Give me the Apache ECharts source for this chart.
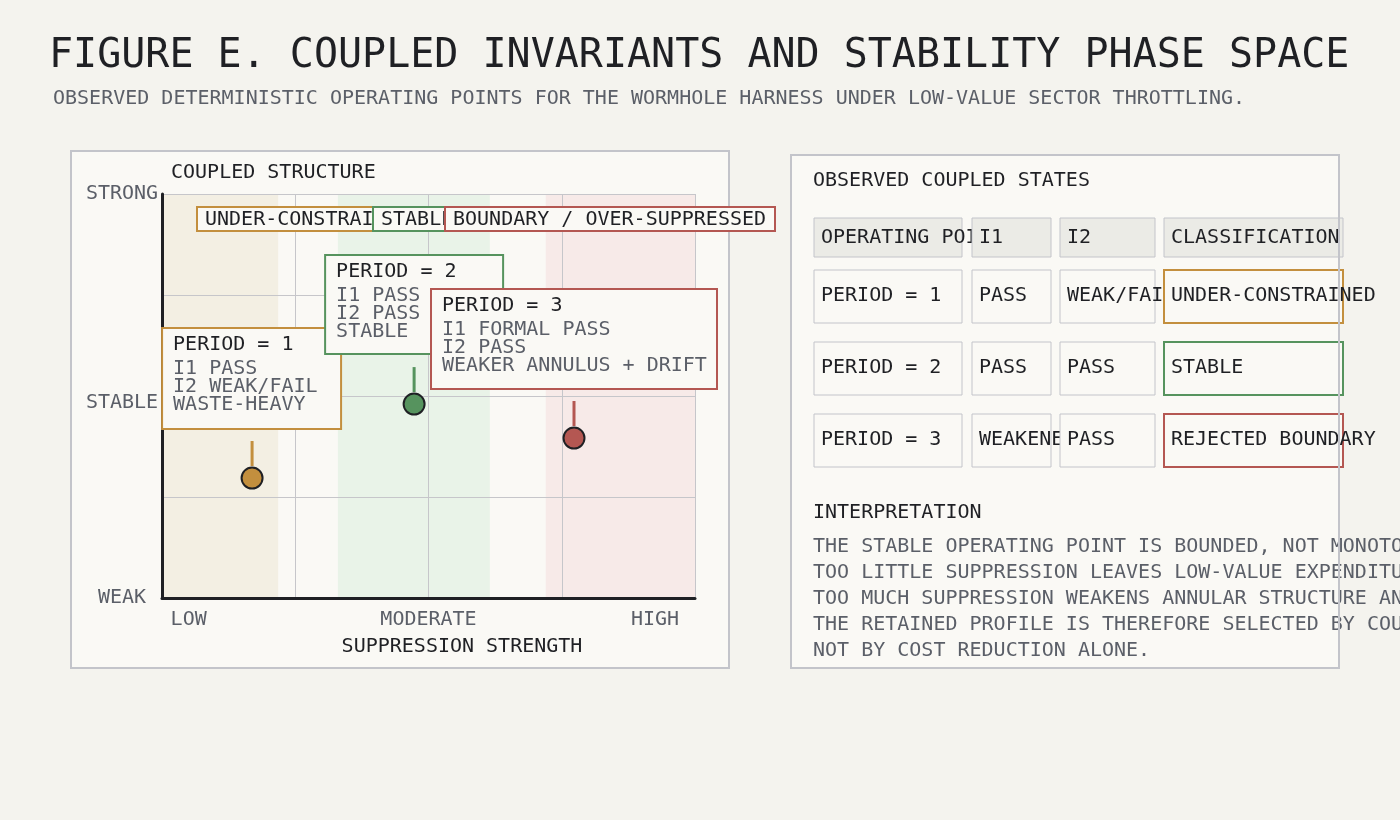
<!DOCTYPE html>
<html>
<head>
<meta charset="utf-8">
<script src="https://cdn.jsdelivr.net/npm/echarts@6/dist/echarts.min.js"></script>
<style>
html,body{margin:0;padding:0;background:#f4f3ee;}
#chart{width:1400px;height:820px;}
</style>
</head>
<body>
<div id="chart"></div>
<script>
// ---------------- DATA ----------------
const periods = ['PERIOD = 1', 'PERIOD = 2', 'PERIOD = 3'];
const suppression = [0.169, 0.473, 0.773];
const structure = [0.297, 0.480, 0.396];
const notes = [
  ['I1 PASS', 'I2 WEAK/FAIL', 'WASTE-HEAVY'],
  ['I1 PASS', 'I2 PASS', 'STABLE'],
  ['I1 FORMAL PASS', 'I2 PASS', 'WEAKER ANNULUS + DRIFT']
];
const bandStarts = [0, 0.33, 0.72];
const bandEnds = [0.218, 0.615, 1.0];
const bandLabels = ['UNDER-CONSTRAINED', 'STABLE', 'BOUNDARY / OVER-SUPPRESSED'];
const xTickValues = [0.05, 0.5, 0.925];
const xTickLabels = ['LOW', 'MODERATE', 'HIGH'];
const yTickValues = [0, 0.483, 1];
const yTickLabels = ['WEAK', 'STABLE', 'STRONG'];
const tableHeader = ['OPERATING POINT', 'I1', 'I2', 'CLASSIFICATION'];
const tableI1 = ['PASS', 'PASS', 'WEAKENED'];
const tableI2 = ['WEAK/FAIL', 'PASS', 'PASS'];
const tableClass = ['UNDER-CONSTRAINED', 'STABLE', 'REJECTED BOUNDARY'];
const interpretation = [
  'THE STABLE OPERATING POINT IS BOUNDED, NOT MONOTONIC.',
  'TOO LITTLE SUPPRESSION LEAVES LOW-VALUE EXPENDITURE INTACT;',
  'TOO MUCH SUPPRESSION WEAKENS ANNULAR STRUCTURE AND INDUCES DRIFT.',
  'THE RETAINED PROFILE IS THEREFORE SELECTED BY COUPLED INVARIANTS,',
  'NOT BY COST REDUCTION ALONE.'
];

// ---------------- STYLE / LAYOUT ----------------
const FF = '"DejaVu Sans Mono", monospace';
const font = (s) => s + 'px ' + FF;
const DARK = '#1f2024', GRAY = '#5b5f68', LINE = '#c3c4ca', PANEL = '#faf9f5';
const statusColors = ['#c38f3e', '#56935e', '#b45752'];
const bandFills = ['#f3efe3', '#e9f3e8', '#f7eae8'];
const boxDx = [-90, -89, -143], boxDy = [-150, -149, -149];
const boxW = [179, 178, 286], boxH = [101, 99, 100];
const labelBoxX = [197, 373, 445];
const colX = [814, 972, 1060, 1164], colW = [148, 79, 95, 179];
const headerY = 218, headerH = 39, rowY = [270, 342, 414], rowH = 53;

function txt(text, x, y, size, color, z, align) {
  return {
    type: 'text', z: z, silent: true,
    style: {
      text: text, x: x, y: y, font: font(size), fill: color,
      textAlign: align || 'left', textVerticalAlign: 'middle',
      align: align || 'left', verticalAlign: 'middle'
    }
  };
}
function box(x, y, w, h, fill, stroke, lw, z) {
  return {
    type: 'rect', z: z, silent: true,
    shape: { x: x, y: y, width: w, height: h },
    style: { fill: fill, stroke: stroke, lineWidth: lw }
  };
}

const graphics = [];
// panels
graphics.push(box(71, 151, 658, 517, PANEL, LINE, 2, 0));
graphics.push(box(791, 155, 548, 513, PANEL, null, 0, 0));
// titles
graphics.push(txt('FIGURE E. COUPLED INVARIANTS AND STABILITY PHASE SPACE', 49, 57, 40, DARK, 1));
graphics.push(txt('OBSERVED DETERMINISTIC OPERATING POINTS FOR THE WORMHOLE HARNESS UNDER LOW-VALUE SECTOR THROTTLING.', 53, 99, 20, GRAY, 1));
graphics.push(txt('COUPLED STRUCTURE', 171, 173, 20, DARK, 1));
graphics.push(txt('SUPPRESSION STRENGTH', 462, 647, 20, DARK, 1, 'center'));
// band label boxes
bandLabels.forEach((lab, i) => {
  const w = lab.length * 12 + 18;
  graphics.push(box(labelBoxX[i], 207, w, 24, PANEL, statusColors[i], 2, 20));
  graphics.push(txt(lab, labelBoxX[i] + 8, 219.5, 20, DARK, 20));
});
// right panel
graphics.push(txt('OBSERVED COUPLED STATES', 813, 181, 20, DARK, 10));
tableHeader.forEach((h, c) => {
  graphics.push(box(colX[c], headerY, colW[c], headerH, '#ebebe6', LINE, 1, 10));
  graphics.push(txt(h, colX[c] + 7, headerY + headerH / 2, 20, DARK, 10));
});
periods.forEach((p, r) => {
  const cells = [p, tableI1[r], tableI2[r], tableClass[r]];
  cells.forEach((t, c) => {
    const last = c === 3;
    graphics.push(box(colX[c], rowY[r], colW[c], rowH, PANEL, last ? statusColors[r] : LINE, last ? 2 : 1, 10));
    graphics.push(txt(t, colX[c] + 7, rowY[r] + 25.5, 20, DARK, 10));
  });
});
graphics.push(txt('INTERPRETATION', 813, 513, 20, DARK, 10));
interpretation.forEach((line, i) => {
  graphics.push(txt(line, 813, 547 + i * 26, 20, GRAY, 10));
});
graphics.push(box(791, 155, 548, 513, null, LINE, 2, 30));

function nearestLabel(values, labels, v) {
  let best = 0;
  values.forEach((t, i) => { if (Math.abs(t - v) < Math.abs(values[best] - v)) best = i; });
  return labels[best];
}

const option = {
  backgroundColor: '#f4f3ee',
  animation: false,
  grid: { left: 162, top: 194, width: 533, height: 404, containLabel: false },
  xAxis: {
    type: 'value', min: 0, max: 1, interval: 0.25, z: 3,
    axisLine: { show: true, onZero: false, lineStyle: { color: DARK, width: 3 } },
    axisTick: { show: false },
    splitLine: { show: true, lineStyle: { color: '#c6c6ca', width: 1 } },
    axisLabel: {
      customValues: xTickValues, margin: 12,
      formatter: (v) => nearestLabel(xTickValues, xTickLabels, v),
      fontFamily: FF, fontSize: 20, color: GRAY
    }
  },
  yAxis: {
    type: 'value', min: 0, max: 1, interval: 0.25, z: 3,
    axisLine: { show: true, onZero: false, lineStyle: { color: DARK, width: 3 } },
    axisTick: { show: false },
    splitLine: { show: true, lineStyle: { color: '#c6c6ca', width: 1 } },
    axisLabel: {
      customValues: yTickValues, margin: 40, align: 'center',
      formatter: (v) => nearestLabel(yTickValues, yTickLabels, v),
      fontFamily: FF, fontSize: 20, color: GRAY
    }
  },
  graphic: { elements: graphics },
  series: [
    {
      type: 'custom', z: 1, silent: true,
      data: bandStarts.map((s, i) => [s, bandEnds[i]]),
      encode: { x: [0, 1] },
      renderItem: (params, api) => {
        const p0 = api.coord([api.value(0), 1]);
        const p1 = api.coord([api.value(1), 0]);
        return {
          type: 'rect',
          shape: { x: p0[0], y: p0[1], width: p1[0] - p0[0], height: p1[1] - p0[1] },
          style: { fill: bandFills[params.dataIndex] }
        };
      }
    },
    {
      type: 'custom', z: 5, silent: true,
      data: suppression.map((s, i) => [s, structure[i]]),
      encode: { x: 0, y: 1 },
      renderItem: (params, api) => {
        const i = params.dataIndex;
        const p = api.coord([api.value(0), api.value(1)]);
        const col = statusColors[i];
        const bx = p[0] + boxDx[i], by = p[1] + boxDy[i];
        const children = [
          { type: 'line', shape: { x1: p[0], y1: p[1] - 37, x2: p[0], y2: p[1] - 12 }, style: { stroke: col, lineWidth: 3 } },
          { type: 'circle', shape: { cx: p[0], cy: p[1], r: 10.5 }, style: { fill: col, stroke: DARK, lineWidth: 2 } },
          { type: 'rect', shape: { x: bx, y: by, width: boxW[i], height: boxH[i] }, style: { fill: PANEL, stroke: col, lineWidth: 2 } },
          { type: 'text', style: { text: periods[i], x: bx + 11, y: by + 17, font: font(20), fill: DARK, textAlign: 'left', textVerticalAlign: 'middle', align: 'left', verticalAlign: 'middle' } }
        ];
        notes[i].forEach((n, k) => {
          children.push({ type: 'text', style: { text: n, x: bx + 11, y: by + 41 + k * 18, font: font(20), fill: GRAY, textAlign: 'left', textVerticalAlign: 'middle', align: 'left', verticalAlign: 'middle' } });
        });
        return { type: 'group', children: children };
      }
    }
  ]
};

const chart = echarts.init(document.getElementById('chart'), null, { renderer: 'canvas' });
chart.setOption(option);
</script>
</body>
</html>
